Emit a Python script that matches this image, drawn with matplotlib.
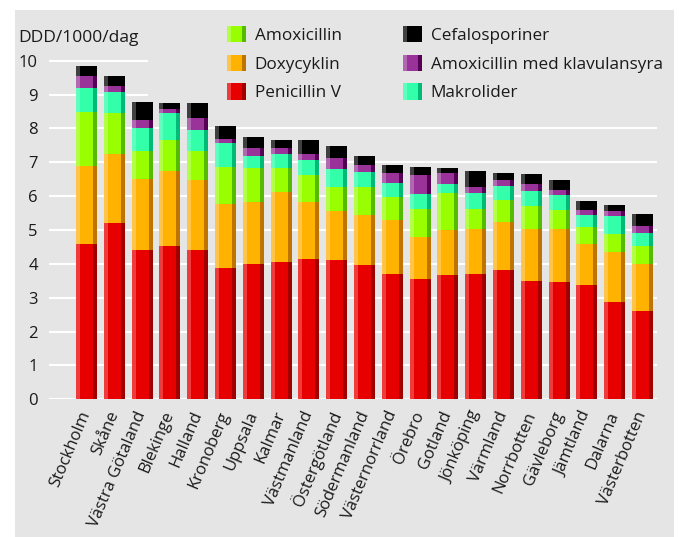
import matplotlib
matplotlib.use("Agg")
import matplotlib.pyplot as plt
from matplotlib.patches import Rectangle
from matplotlib.legend_handler import HandlerBase
import numpy as np

plt.rcParams['font.family'] = ['Open Sans', 'DejaVu Sans']

regions = ["Stockholm", "Skåne", "Västra Götaland", "Blekinge", "Halland", "Kronoberg",
           "Uppsala", "Kalmar", "Västmanland", "Östergötland", "Södermanland",
           "Västernorrland", "Örebro", "Gotland", "Jönköping", "Värmland", "Norrbotten",
           "Gävleborg", "Jämtland", "Dalarna", "Västerbotten"]

penicillin_v = [4.58, 5.21, 4.40, 4.52, 4.40, 3.89, 3.99, 4.05, 4.14, 4.11, 3.96,
                3.69, 3.54, 3.66, 3.69, 3.81, 3.48, 3.45, 3.37, 2.87, 2.60]
doxycyklin = [2.31, 2.04, 2.11, 2.23, 2.08, 1.88, 1.84, 2.07, 1.69, 1.45, 1.48,
              1.61, 1.25, 1.34, 1.34, 1.43, 1.55, 1.58, 1.21, 1.47, 1.39]
amoxicillin = [1.60, 1.20, 0.83, 0.91, 0.86, 1.09, 1.00, 0.71, 0.79, 0.71, 0.83,
               0.68, 0.83, 1.09, 0.59, 0.65, 0.68, 0.56, 0.50, 0.53, 0.53]
makrolider = [0.71, 0.63, 0.68, 0.80, 0.62, 0.71, 0.36, 0.42, 0.45, 0.53, 0.45,
              0.41, 0.45, 0.27, 0.47, 0.41, 0.44, 0.45, 0.36, 0.54, 0.38]
amox_klav = [0.36, 0.18, 0.23, 0.12, 0.35, 0.12, 0.24, 0.18, 0.18, 0.33, 0.20,
             0.30, 0.56, 0.33, 0.18, 0.18, 0.21, 0.14, 0.15, 0.15, 0.23]
cefalosporiner = [0.29, 0.30, 0.54, 0.18, 0.45, 0.39, 0.33, 0.23, 0.41, 0.36, 0.27,
                  0.23, 0.23, 0.14, 0.48, 0.21, 0.30, 0.30, 0.27, 0.18, 0.34]

series_names = ["Penicillin V", "Doxycyklin", "Amoxicillin", "Makrolider",
                "Amoxicillin med klavulansyra", "Cefalosporiner"]
series_values = [penicillin_v, doxycyklin, amoxicillin, makrolider, amox_klav, cefalosporiner]
# (light strip, main, dark strip)
series_colors = [("#EE3B3B", "#E60000", "#A00000"),
                 ("#FFC54A", "#FFB300", "#BF7400"),
                 ("#B2FF45", "#99FF00", "#55BB00"),
                 ("#5EFFBE", "#33FFAA", "#00BB77"),
                 ("#B068B0", "#993399", "#550055"),
                 ("#404040", "#000000", "#000000")]
legend_order = ["Amoxicillin", "Doxycyklin", "Penicillin V",
                "Cefalosporiner", "Amoxicillin med klavulansyra", "Makrolider"]

W, H = 679, 537
fig = plt.figure(figsize=(W / 100, H / 100), dpi=100)
fig.patch.set_facecolor("white")
grey = "#E5E5E5"
fig.patches.append(Rectangle((15 / W, 0), (674 - 15) / W, (H - 10) / H,
                             transform=fig.transFigure, facecolor=grey,
                             edgecolor="none", zorder=-10))

ax = fig.add_axes([49 / W, (H - 399.3) / H, 608 / W, (399.3 - 30) / H])
ax.set_facecolor("none")

x = np.arange(len(regions))
bw = 0.755
sw = 0.145
bottom = np.zeros(len(regions))
for vals, (cl, cm, cd) in zip(series_values, series_colors):
    v = np.array(vals)
    ax.bar(x, v, bw, bottom=bottom, color=cm, linewidth=0, zorder=2)
    ax.bar(x - bw / 2 + sw / 2, v, sw, bottom=bottom, color=cl, linewidth=0, zorder=3)
    ax.bar(x + bw / 2 - sw / 2, v, sw, bottom=bottom, color=cd, linewidth=0, zorder=3)
    bottom += v

ax.set_xlim(-1.35, 20.52)
ax.set_ylim(0, (399.3 - 30) / 33.86)
ax.set_yticks(range(0, 11))
ax.yaxis.grid(True, color="white", linewidth=1.5)
ax.set_axisbelow(True)
for s in ax.spines.values():
    s.set_visible(False)
ax.tick_params(axis="both", length=0, labelsize=12, colors="#1a1a1a")
ax.tick_params(axis="y", pad=8)
ax.set_xticks(x)
ax.set_xticklabels(regions, rotation=67, ha="right", va="center",
                   rotation_mode="anchor")
ax.tick_params(axis="x", pad=9)

fig.text(18 / W, 1 - 42 / H, "DDD/1000/dag", ha="left", va="baseline",
         fontsize=12.5, color="#1a1a1a")

# legend background covering gridlines
fig.patches.append(Rectangle((148 / W, 1 - 100 / H), (674 - 148) / W, 90 / H,
                             transform=fig.transFigure, facecolor=grey,
                             edgecolor="none", zorder=1))


class StripHandler(HandlerBase):
    def __init__(self, colors):
        super().__init__()
        self.colors = colors

    def create_artists(self, legend, orig_handle, xdescent, ydescent, width,
                       height, fontsize, trans):
        cl, cm, cd = self.colors
        x0, y0 = -xdescent, -ydescent
        s = width * 0.21
        arts = [Rectangle((x0, y0), width, height, facecolor=cm, edgecolor="none", transform=trans),
                Rectangle((x0, y0), s, height, facecolor=cl, edgecolor="none", transform=trans),
                Rectangle((x0 + width - s, y0), s, height, facecolor=cd, edgecolor="none", transform=trans)]
        return arts


handles, labels, hmap = [], [], {}
for name in legend_order:
    i = series_names.index(name)
    h = Rectangle((0, 0), 1, 1)
    handles.append(h)
    labels.append(name)
    hmap[h] = StripHandler(series_colors[i])

leg = fig.legend(handles, labels, handler_map=hmap, ncol=2, loc="upper left",
                 bbox_to_anchor=(227 / W, 1 - 26 / H), frameon=False,
                 fontsize=12.3, handlelength=1.12, handleheight=1.1,
                 handletextpad=0.5, labelspacing=0.62, columnspacing=3.6,
                 borderpad=0, borderaxespad=0)
for t in leg.get_texts():
    t.set_color("#1a1a1a")
leg.set_zorder(2)

fig.savefig("out.png", dpi=100, facecolor="white")
